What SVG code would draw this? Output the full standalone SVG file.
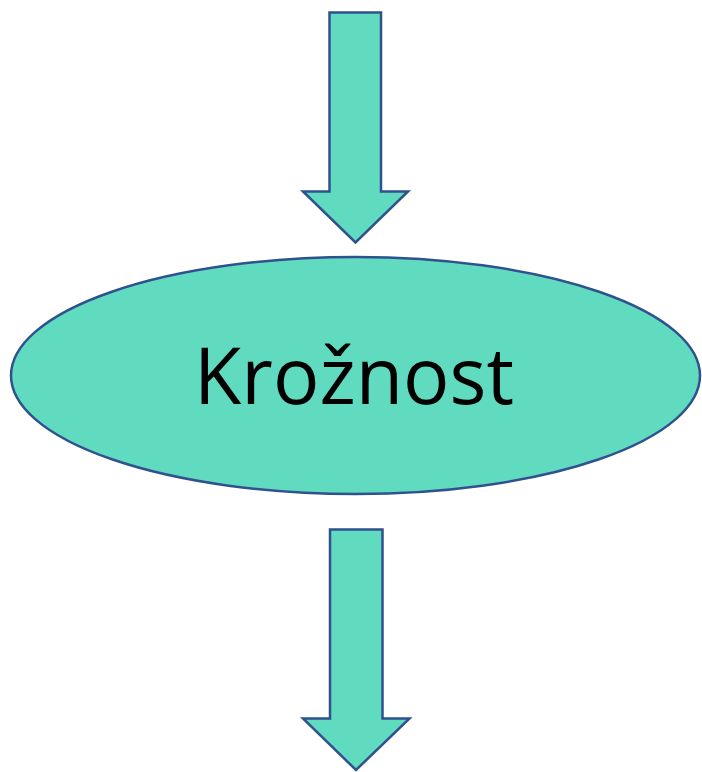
<svg xmlns="http://www.w3.org/2000/svg" width="702" height="772" viewBox="0 0 702 772">
<style>
.shape{fill:#60DBBF;stroke:#2F528F;stroke-width:2.5;stroke-linejoin:miter}
.lbl{font-family:"Open Sans","Liberation Sans",sans-serif;font-size:79px;fill:#000;text-anchor:middle}
</style>
<rect width="702" height="772" fill="#fff"/>
<g id="connectors">
<path id="arrow-in" class="shape" d="M329.5,12.5 H381 V191.5 H408 L355.5,242.5 L303,191.5 H329.5 Z"/>
<path id="arrow-out" class="shape" d="M330,529.5 H382.5 V718.5 H409.5 L356,770 L303,718.5 H330 Z"/>
</g>
<g id="node-kroznost">
<ellipse class="shape" cx="355.5" cy="375.5" rx="344.5" ry="118.5"/>
<text class="lbl" x="354" y="404" textLength="320" lengthAdjust="spacingAndGlyphs">Krožnost</text>
</g>
</svg>
